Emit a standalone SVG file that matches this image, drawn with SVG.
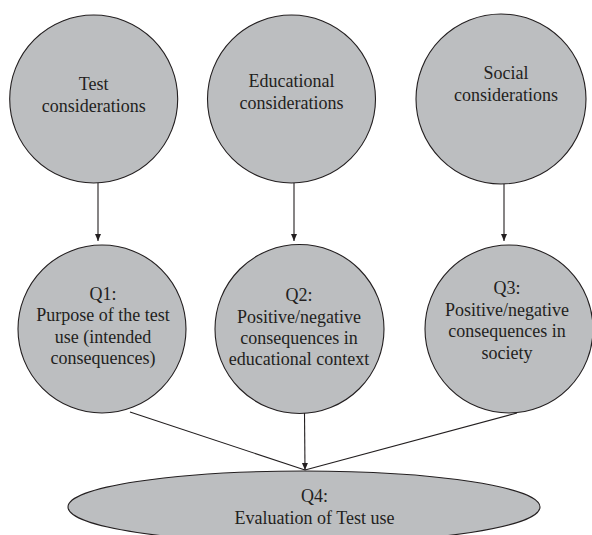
<svg xmlns="http://www.w3.org/2000/svg" width="592" height="535" viewBox="0 0 592 535">
<style>
.node{fill:#bcbec0;stroke:#231f20;stroke-width:1.1}
.t{font-family:"Liberation Serif","Times New Roman",serif;font-size:18px;fill:#231f20;text-anchor:middle}
.c{stroke:#231f20;stroke-width:1.1;fill:none}
</style>
<defs>
<marker id="ah" markerWidth="8" markerHeight="8" refX="7" refY="3" orient="auto" markerUnits="userSpaceOnUse">
<path d="M0,0 L7,3 L0,6 z" fill="#231f20"/>
</marker>
</defs>
<rect width="592" height="535" fill="#ffffff"/>
<g id="test-considerations">
<circle class="node" cx="93.7" cy="99" r="84"/>
<text class="t" x="93.7" y="90">Test</text>
<text class="t" x="93.7" y="112">considerations</text>
</g>
<g id="educational-considerations">
<circle class="node" cx="291.5" cy="99" r="84"/>
<text class="t" x="291.5" y="86.5">Educational</text>
<text class="t" x="291.5" y="108.5">considerations</text>
</g>
<g id="social-considerations">
<circle class="node" cx="501" cy="99" r="85"/>
<text class="t" x="506" y="79">Social</text>
<text class="t" x="506" y="101">considerations</text>
</g>
<g id="q1">
<circle class="node" cx="102" cy="329" r="84"/>
<text class="t" x="103" y="300">Q1:</text>
<text class="t" x="103" y="321">Purpose of the test</text>
<text class="t" x="103" y="342.5">use (intended</text>
<text class="t" x="103" y="364">consequences)</text>
</g>
<g id="q2">
<circle class="node" cx="299.5" cy="329" r="84.5"/>
<text class="t" x="299" y="301">Q2:</text>
<text class="t" x="299" y="323">Positive/negative</text>
<text class="t" x="299" y="344">consequences in</text>
<text class="t" x="299" y="365">educational context</text>
</g>
<g id="q3">
<circle class="node" cx="509" cy="329" r="84"/>
<text class="t" x="507" y="294">Q3:</text>
<text class="t" x="507" y="316">Positive/negative</text>
<text class="t" x="507" y="337">consequences in</text>
<text class="t" x="507" y="359">society</text>
</g>
<g id="q4">
<ellipse class="node" cx="304" cy="507" rx="236" ry="36"/>
<text class="t" x="314.5" y="502">Q4:</text>
<text class="t" x="314.5" y="524">Evaluation of Test use</text>
</g>
<g id="connectors">
<line class="c" x1="98" y1="183" x2="98" y2="241" marker-end="url(#ah)"/>
<line class="c" x1="294" y1="183" x2="294" y2="241" marker-end="url(#ah)"/>
<line class="c" x1="504" y1="184" x2="504" y2="241" marker-end="url(#ah)"/>
<line class="c" x1="130" y1="412" x2="305" y2="470"/>
<line class="c" x1="517" y1="413" x2="305" y2="470"/>
<line class="c" x1="304.5" y1="413" x2="305" y2="470" marker-end="url(#ah)"/>
</g>
</svg>
